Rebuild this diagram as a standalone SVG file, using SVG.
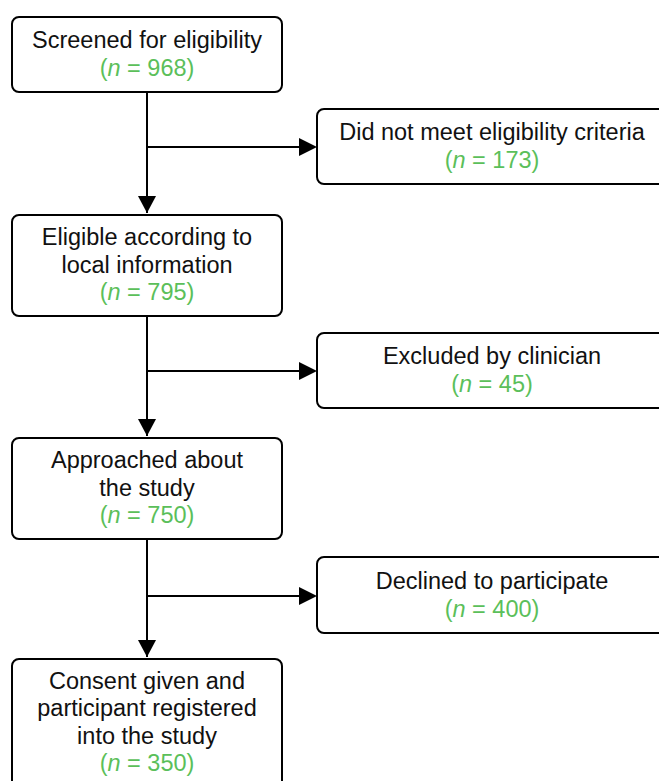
<svg xmlns="http://www.w3.org/2000/svg" width="659" height="781" viewBox="0 0 659 781">
<defs>
<style>
.box{fill:#fff;stroke:#000;stroke-width:2}
.t{font-family:"Liberation Sans",Arial,sans-serif;font-size:23.5px;fill:#111;text-anchor:middle}
.g{fill:#5BBF5A}
.ln{stroke:#000;stroke-width:2;fill:none}
</style>
</defs>
<rect width="659" height="781" fill="#fff"/>
<g id="connectors">
<path class="ln" d="M147,92 V213"/>
<path d="M138,196 L156,196 L147,213 Z" fill="#000"/>
<path class="ln" d="M147,147 H300"/>
<path d="M299,138 L317,147 L299,156 Z" fill="#000"/>
<path class="ln" d="M147,316 V436"/>
<path d="M138,419 L156,419 L147,436 Z" fill="#000"/>
<path class="ln" d="M147,371 H300"/>
<path d="M299,362 L317,371 L299,380 Z" fill="#000"/>
<path class="ln" d="M147,539 V657"/>
<path d="M138,640 L156,640 L147,657 Z" fill="#000"/>
<path class="ln" d="M147,596 H300"/>
<path d="M299,587 L317,596 L299,605 Z" fill="#000"/>
</g>
<g id="n1">
<rect class="box" x="12" y="17" width="270" height="75" rx="7"/>
<text class="t" x="147" y="48">Screened for eligibility</text>
<text class="t g" x="147" y="76">(<tspan font-style="italic">n</tspan> = 968)</text>
</g>
<g id="n2">
<rect class="box" x="317" y="109" width="350" height="75" rx="7"/>
<text class="t" x="492" y="140">Did not meet eligibility criteria</text>
<text class="t g" x="492" y="167.5">(<tspan font-style="italic">n</tspan> = 173)</text>
</g>
<g id="n3">
<rect class="box" x="12" y="215" width="270" height="101" rx="7"/>
<text class="t" x="147" y="245">Eligible according to</text>
<text class="t" x="147" y="272.5">local information</text>
<text class="t g" x="147" y="300">(<tspan font-style="italic">n</tspan> = 795)</text>
</g>
<g id="n4">
<rect class="box" x="317" y="333" width="350" height="75" rx="7"/>
<text class="t" x="492" y="364">Excluded by clinician</text>
<text class="t g" x="492" y="391.5">(<tspan font-style="italic">n</tspan> = 45)</text>
</g>
<g id="n5">
<rect class="box" x="12" y="438" width="270" height="101" rx="7"/>
<text class="t" x="147" y="468">Approached about</text>
<text class="t" x="147" y="495.5">the study</text>
<text class="t g" x="147" y="523">(<tspan font-style="italic">n</tspan> = 750)</text>
</g>
<g id="n6">
<rect class="box" x="317" y="557" width="350" height="76" rx="7"/>
<text class="t" x="492" y="589">Declined to participate</text>
<text class="t g" x="492" y="616.5">(<tspan font-style="italic">n</tspan> = 400)</text>
</g>
<g id="n7">
<rect class="box" x="12" y="659" width="270" height="140" rx="7"/>
<text class="t" x="147" y="688.5">Consent given and</text>
<text class="t" x="147" y="716">participant registered</text>
<text class="t" x="147" y="743.5">into the study</text>
<text class="t g" x="147" y="771">(<tspan font-style="italic">n</tspan> = 350)</text>
</g>
</svg>
